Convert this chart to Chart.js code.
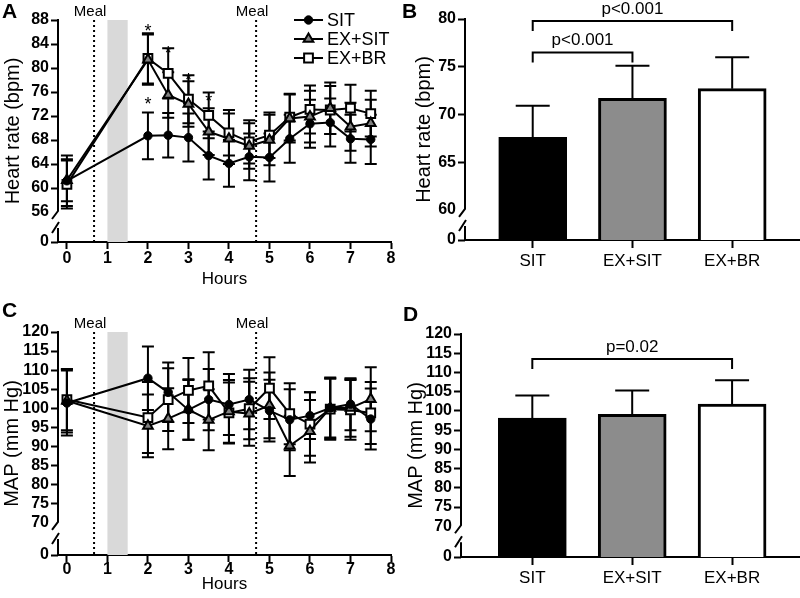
<!DOCTYPE html>
<html lang="en">
<head>
<meta charset="UTF-8">
<title>Heart rate and MAP</title>
<script src="https://cdn.jsdelivr.net/npm/chart.js"></script>
<style>
body { margin: 0; background: #fff; overflow: hidden; }
.panel { position: absolute; }
.letter { position: absolute; font: bold 21px 'Liberation Sans', Arial, sans-serif; color: #000; }
</style>
</head>
<body>
<div class="panel" style="left:0;top:0"><canvas id="chartA" width="400" height="300"></canvas></div>
<div class="panel" style="left:400px;top:0"><canvas id="chartB" width="400" height="300"></canvas></div>
<div class="panel" style="left:0;top:300px"><canvas id="chartC" width="400" height="298"></canvas></div>
<div class="panel" style="left:400px;top:300px"><canvas id="chartD" width="400" height="298"></canvas></div>
<div class="letter" style="left:2px;top:-1px">A</div>
<div class="letter" style="left:402px;top:-1px">B</div>
<div class="letter" style="left:2px;top:298px">C</div>
<div class="letter" style="left:403px;top:302px">D</div>

<script>
// time course (hours)
const hours = [0, 2, 2.5, 3, 3.5, 4, 4.5, 5, 5.5, 6, 6.5, 7, 7.5];
const hourTicks = [0, 1, 2, 3, 4, 5, 6, 7, 8];
const mealTimes = [0.67, 4.67];
const exerciseWindow = [1, 1.5];

// A: heart rate (bpm), mean and SD
const hrSit      = [61.2, 68.7, 68.8, 68.4, 65.4, 64.1, 65.2, 65.1, 68.2, 70.7, 70.9, 68.2, 68.1];
const hrSitErr   = [4.2, 3.9, 3.7, 4.0, 4.0, 3.9, 3.9, 4.0, 4.0, 4.0, 4.0, 4.0, 4.1];
const hrExSit    = [61.3, 81.4, 75.5, 74.0, 69.4, 68.2, 67.0, 68.0, 71.6, 71.9, 73.3, 70.2, 70.8];
const hrExSitErr = [3.5, 4.2, 3.8, 3.8, 3.9, 4.2, 3.8, 4.2, 4.0, 4.3, 4.3, 4.0, 3.9];
const hrExBr     = [60.6, 81.6, 79.1, 74.8, 72.1, 69.2, 67.7, 68.8, 71.8, 73.1, 73.0, 73.3, 72.4];
const hrExBrErr  = [4.0, 4.2, 4.2, 4.0, 3.8, 3.8, 3.6, 3.8, 3.9, 4.0, 4.0, 3.9, 3.8];
const hrTicks = [56, 60, 64, 68, 72, 76, 80, 84, 88];
const hrBase = 51;
const hrStars = [[2, 86.9], [2, 74.7], [2.5, 83.1], [3, 78.6], [3.5, 75.2]];

// C: MAP (mm Hg), mean and SD
const mapSit      = [101.4, 107.9, 104.2, 99.6, 102.3, 101.0, 102.3, 99.4, 97.0, 98.1, 100.1, 101.1, 97.2];
const mapSitErr   = [8.5, 8.3, 7.8, 7.8, 8.0, 8.0, 7.8, 8.1, 8.0, 6.1, 7.7, 6.8, 8.0];
const mapExSit    = [102.0, 95.4, 97.3, 99.7, 97.0, 99.2, 98.6, 100.8, 90.2, 94.0, 100.1, 100.1, 102.4];
const mapExSitErr = [8.3, 8.2, 8.0, 7.9, 8.0, 8.2, 8.4, 8.6, 7.9, 8.2, 8.0, 7.5, 8.4];
const mapExBr     = [102.3, 97.6, 102.3, 104.7, 105.9, 98.8, 99.9, 105.3, 98.6, 95.9, 99.8, 99.6, 98.8];
const mapExBrErr  = [8.0, 9.3, 8.2, 8.5, 8.8, 8.0, 8.0, 8.1, 8.0, 8.3, 8.0, 7.8, 8.1];
const mapTicks = [70, 75, 80, 85, 90, 95, 100, 105, 110, 115, 120];
const mapBase = 61.6;

// B and D: whole-day means
const groups = ['SIT', 'EX+SIT', 'EX+BR'];
const barHr = [67.6, 71.7, 72.7];
const barHrSd = [3.3, 3.4, 3.3];
const barHrTicks = [60, 65, 70, 75, 80];
const barHrBase = 56.85;
const hrBrackets = [[1, 3, 79.8, 'p<0.001'], [1, 2, 76.5, 'p<0.001']];
const barMap = [98.1, 99.1, 101.8];
const barMapSd = [5.9, 6.2, 6.2];
const barMapBase = 62;
const mapBrackets = [[1, 3, 113.5, 'p=0.02']];

const FONT = "'Liberation Sans', Arial, sans-serif";
Chart.defaults.font.family = FONT;
Chart.defaults.color = '#000';

const markerStyle = {
    'SIT':    { pointStyle: 'circle',   pointRadius: 4.2, pointBackgroundColor: '#000',    pointBorderWidth: 1 },
    'EX+SIT': { pointStyle: 'triangle', pointRadius: 5.6, pointBackgroundColor: '#808080', pointBorderWidth: 2 },
    'EX+BR':  { pointStyle: 'rect',     pointRadius: 6.2, pointBackgroundColor: '#fff',    pointBorderWidth: 2 }
};

function drawMarker(ctx, s, x, y) {
    const r = s.pointRadius;
    ctx.save();
    ctx.fillStyle = s.pointBackgroundColor;
    ctx.strokeStyle = '#000';
    ctx.lineWidth = s.pointBorderWidth;
    ctx.beginPath();
    if (s.pointStyle === 'circle') {
        ctx.arc(x, y, r, 0, Math.PI * 2);
    } else if (s.pointStyle === 'rect') {
        const h = r * Math.SQRT1_2;
        ctx.rect(x - h, y - h, 2 * h, 2 * h);
    } else {
        ctx.moveTo(x, y - r);
        ctx.lineTo(x + 0.866 * r, y + 0.5 * r);
        ctx.lineTo(x - 0.866 * r, y + 0.5 * r);
        ctx.closePath();
    }
    ctx.fill();
    ctx.stroke();
    ctx.restore();
}

function lineSet(label, values, errors) {
    return Object.assign({
        label: label,
        data: hours.map((h, i) => ({ x: h, y: values[i] })),
        errors: errors,
        borderColor: '#000',
        borderWidth: 2,
        pointBorderColor: '#000',
        tension: 0,
        clip: false
    }, markerStyle[label]);
}

function yAxis(base, ticks, width, title, titlePad) {
    return {
        type: 'linear',
        min: base,
        max: ticks[ticks.length - 1],
        afterFit(scale) { scale.width = width; },
        afterBuildTicks(scale) { scale.ticks = [base].concat(ticks).map(v => ({ value: v })); },
        ticks: { font: { size: 16, weight: 'bold' }, color: '#000', padding: 2, autoSkip: false,
                 callback: v => (v === base ? '0' : v) },
        grid: { drawOnChartArea: false, tickLength: 7, tickWidth: 2,
                tickColor: c => (c.tick && c.tick.value === ticks[0] ? 'rgba(0,0,0,0)' : '#000') },
        border: { display: false },
        title: { display: true, text: title, color: '#000', font: { size: 20 },
                 padding: { top: titlePad, bottom: 0 } }
    };
}

function hoursAxis(height, labelPad, titlePad) {
    return {
        type: 'linear',
        min: -0.22,
        max: 8,
        afterFit(scale) { scale.height = height; },
        afterBuildTicks(scale) { scale.ticks = hourTicks.map(v => ({ value: v })); },
        ticks: { font: { size: 16, weight: 'bold' }, color: '#000', padding: labelPad, autoSkip: false, maxRotation: 0 },
        grid: { drawOnChartArea: false, tickLength: 7, tickWidth: 2, tickColor: '#000' },
        border: { color: '#000', width: 2 },
        title: { display: true, text: 'Hours', color: '#000', font: { size: 17 },
                 padding: { top: 0, bottom: titlePad } }
    };
}

function groupAxis(min, height) {
    return {
        type: 'linear',
        offset: false,
        min: min,
        max: 3.68,
        afterFit(scale) { scale.height = height; },
        afterBuildTicks(scale) { scale.ticks = groups.map((g, i) => ({ value: i + 1 })); },
        ticks: { font: { size: 17 }, color: '#000', padding: 3, autoSkip: false, maxRotation: 0,
                 callback: v => groups[v - 1] },
        grid: { drawOnChartArea: false, offset: false, tickLength: 8, tickWidth: 2, tickColor: '#000' },
        border: { color: '#000', width: 2 }
    };
}

// meal markers and the exercise window
const timeline = {
    id: 'timeline',
    beforeDatasetsDraw(chart) {
        const { ctx, chartArea: a, scales: { x } } = chart;
        ctx.save();
        ctx.fillStyle = '#d9d9d9';
        const x0 = x.getPixelForValue(exerciseWindow[0]);
        const x1 = x.getPixelForValue(exerciseWindow[1]);
        ctx.fillRect(x0, a.top, x1 - x0, a.bottom - a.top);
        ctx.strokeStyle = '#000';
        ctx.lineWidth = 2;
        ctx.setLineDash([2, 3]);
        ctx.font = '15px ' + FONT;
        ctx.fillStyle = '#000';
        ctx.textAlign = 'center';
        ctx.textBaseline = 'middle';
        mealTimes.forEach(t => {
            const px = x.getPixelForValue(t);
            ctx.beginPath();
            ctx.moveTo(px, a.top);
            ctx.lineTo(px, a.bottom);
            ctx.stroke();
            ctx.fillText('Meal', px - 4, a.top - 8);
        });
        ctx.restore();
    }
};

// SD whiskers from each dataset's errors array
const errorBars = {
    id: 'errorBars',
    draw(chart, opts) {
        const { ctx, scales: { y } } = chart;
        ctx.save();
        ctx.strokeStyle = '#000';
        ctx.lineWidth = 2;
        chart.data.datasets.forEach((ds, i) => {
            const meta = chart.getDatasetMeta(i);
            meta.data.forEach((el, j) => {
                const v = ds.data[j].y, e = ds.errors[j];
                const top = y.getPixelForValue(v + e);
                const bottom = opts.upOnly ? el.y : y.getPixelForValue(v - e);
                ctx.beginPath();
                ctx.moveTo(el.x, bottom);
                ctx.lineTo(el.x, top);
                ctx.moveTo(el.x - opts.cap, top);
                ctx.lineTo(el.x + opts.cap, top);
                if (!opts.upOnly) {
                    ctx.moveTo(el.x - opts.cap, bottom);
                    ctx.lineTo(el.x + opts.cap, bottom);
                }
                ctx.stroke();
            });
        });
        ctx.restore();
    },
    beforeDatasetsDraw(chart, args, opts) { if (!opts.upOnly) this.draw(chart, opts); },
    afterDatasetsDraw(chart, args, opts) { if (opts.upOnly) this.draw(chart, opts); }
};

// y axis line with a break between the base and the first real tick
const axisBreak = {
    id: 'axisBreak',
    afterDraw(chart, args, opts) {
        const { ctx, chartArea: a, scales: { y } } = chart;
        const ax = a.left, yb = y.getPixelForValue(opts.value);
        ctx.save();
        ctx.strokeStyle = '#000';
        ctx.lineWidth = 2;
        ctx.beginPath();
        ctx.moveTo(ax, a.top - 1);
        ctx.lineTo(ax, yb - 1);
        ctx.lineTo(ax - 6, yb + 7);
        ctx.moveTo(ax - 6, yb + 21);
        ctx.lineTo(ax + 1, yb + 10);
        ctx.moveTo(ax, yb + 16);
        ctx.lineTo(ax, a.bottom + 1);
        ctx.stroke();
        ctx.restore();
    }
};

const legendA = {
    id: 'legendA',
    afterDraw(chart) {
        const ctx = chart.ctx;
        const rows = [20, 39, 58];
        ctx.save();
        ctx.font = '18px ' + FONT;
        ctx.fillStyle = '#000';
        ctx.textBaseline = 'middle';
        chart.data.datasets.forEach((ds, i) => {
            const yy = rows[i];
            ctx.strokeStyle = '#000';
            ctx.lineWidth = 2;
            ctx.beginPath();
            ctx.moveTo(294, yy);
            ctx.lineTo(323, yy);
            ctx.stroke();
            drawMarker(ctx, markerStyle[ds.label], 308.5, yy);
            ctx.fillText(ds.label, 327, yy + 1);
        });
        ctx.restore();
    }
};

const stars = {
    id: 'stars',
    afterDatasetsDraw(chart, args, opts) {
        const { ctx, scales: { x, y } } = chart;
        ctx.save();
        ctx.font = '18px ' + FONT;
        ctx.fillStyle = '#000';
        ctx.textAlign = 'center';
        ctx.textBaseline = 'alphabetic';
        opts.points.forEach(p => {
            ctx.fillText('*', x.getPixelForValue(p[0]), y.getPixelForValue(p[1]) + 10);
        });
        ctx.restore();
    }
};

const brackets = {
    id: 'brackets',
    afterDraw(chart, args, opts) {
        const { ctx, scales: { x, y } } = chart;
        ctx.save();
        ctx.strokeStyle = '#000';
        ctx.lineWidth = 2;
        ctx.font = '17px ' + FONT;
        ctx.fillStyle = '#000';
        ctx.textAlign = 'center';
        ctx.textBaseline = 'alphabetic';
        opts.items.forEach(b => {
            const x0 = x.getPixelForValue(b[0]), x1 = x.getPixelForValue(b[1]);
            const yy = y.getPixelForValue(b[2]);
            ctx.beginPath();
            ctx.moveTo(x0, yy + 10);
            ctx.lineTo(x0, yy);
            ctx.lineTo(x1, yy);
            ctx.lineTo(x1, yy + 10);
            ctx.stroke();
            ctx.fillText(b[3], (x0 + x1) / 2, yy - 7);
        });
        ctx.restore();
    }
};

function timeChart(id, sets, base, ticks, title, lay) {
    return new Chart(document.getElementById(id), {
        type: 'line',
        data: { datasets: sets },
        options: {
            responsive: false,
            animation: false,
            layout: { padding: { top: lay.top, right: 9, left: 0, bottom: 0 } },
            scales: {
                x: hoursAxis(lay.xh, lay.labelPad, lay.titlePad),
                y: yAxis(base, ticks, 58, title, lay.yTitlePad)
            },
            plugins: {
                legend: { display: false },
                tooltip: { enabled: false },
                errorBars: { cap: 6, upOnly: false },
                axisBreak: { value: ticks[0] },
                stars: { points: lay.stars || [] }
            }
        },
        plugins: [timeline, errorBars, axisBreak, stars].concat(lay.extra || [])
    });
}

function barChart(id, means, sds, base, ticks, title, bracketList, lay) {
    return new Chart(document.getElementById(id), {
        type: 'bar',
        data: {
            datasets: [{
                label: title,
                data: groups.map((g, i) => ({ x: i + 1, y: means[i] })),
                errors: sds,
                backgroundColor: ['#000', '#8c8c8c', '#fff'],
                borderColor: '#000',
                borderWidth: 3,
                borderSkipped: false,
                barThickness: 68
            }]
        },
        options: {
            responsive: false,
            animation: false,
            layout: { padding: { top: lay.top, right: 0, left: 0, bottom: 0 } },
            scales: {
                x: groupAxis(lay.xmin, lay.xh),
                y: yAxis(base, ticks, lay.yw, title, lay.yTitlePad)
            },
            plugins: {
                legend: { display: false },
                tooltip: { enabled: false },
                errorBars: { cap: 17, upOnly: true },
                axisBreak: { value: ticks[0] },
                brackets: { items: bracketList }
            }
        },
        plugins: [errorBars, axisBreak, brackets]
    });
}

timeChart('chartA', [
    lineSet('SIT', hrSit, hrSitErr),
    lineSet('EX+SIT', hrExSit, hrExSitErr),
    lineSet('EX+BR', hrExBr, hrExBrErr)
], hrBase, hrTicks, 'Heart rate (bpm)',
    { top: 20, xh: 58, labelPad: 0, titlePad: 10, yTitlePad: 1, stars: hrStars, extra: [legendA] });

timeChart('chartC', [
    lineSet('SIT', mapSit, mapSitErr),
    lineSet('EX+SIT', mapExSit, mapExSitErr),
    lineSet('EX+BR', mapExBr, mapExBrErr)
], mapBase, mapTicks, 'MAP (mm Hg)',
    { top: 32, xh: 43, labelPad: -2, titlePad: 3, yTitlePad: 0 });

barChart('chartB', barHr, barHrSd, barHrBase, barHrTicks, 'Heart rate (bpm)', hrBrackets,
    { top: 19, xh: 60, yw: 65, xmin: 0.321, yTitlePad: 12 });

barChart('chartD', barMap, barMapSd, barMapBase, mapTicks, 'MAP (mm Hg)', mapBrackets,
    { top: 34, xh: 41, yw: 61, xmin: 0.286, yTitlePad: 4 });
</script>
</body>
</html>
